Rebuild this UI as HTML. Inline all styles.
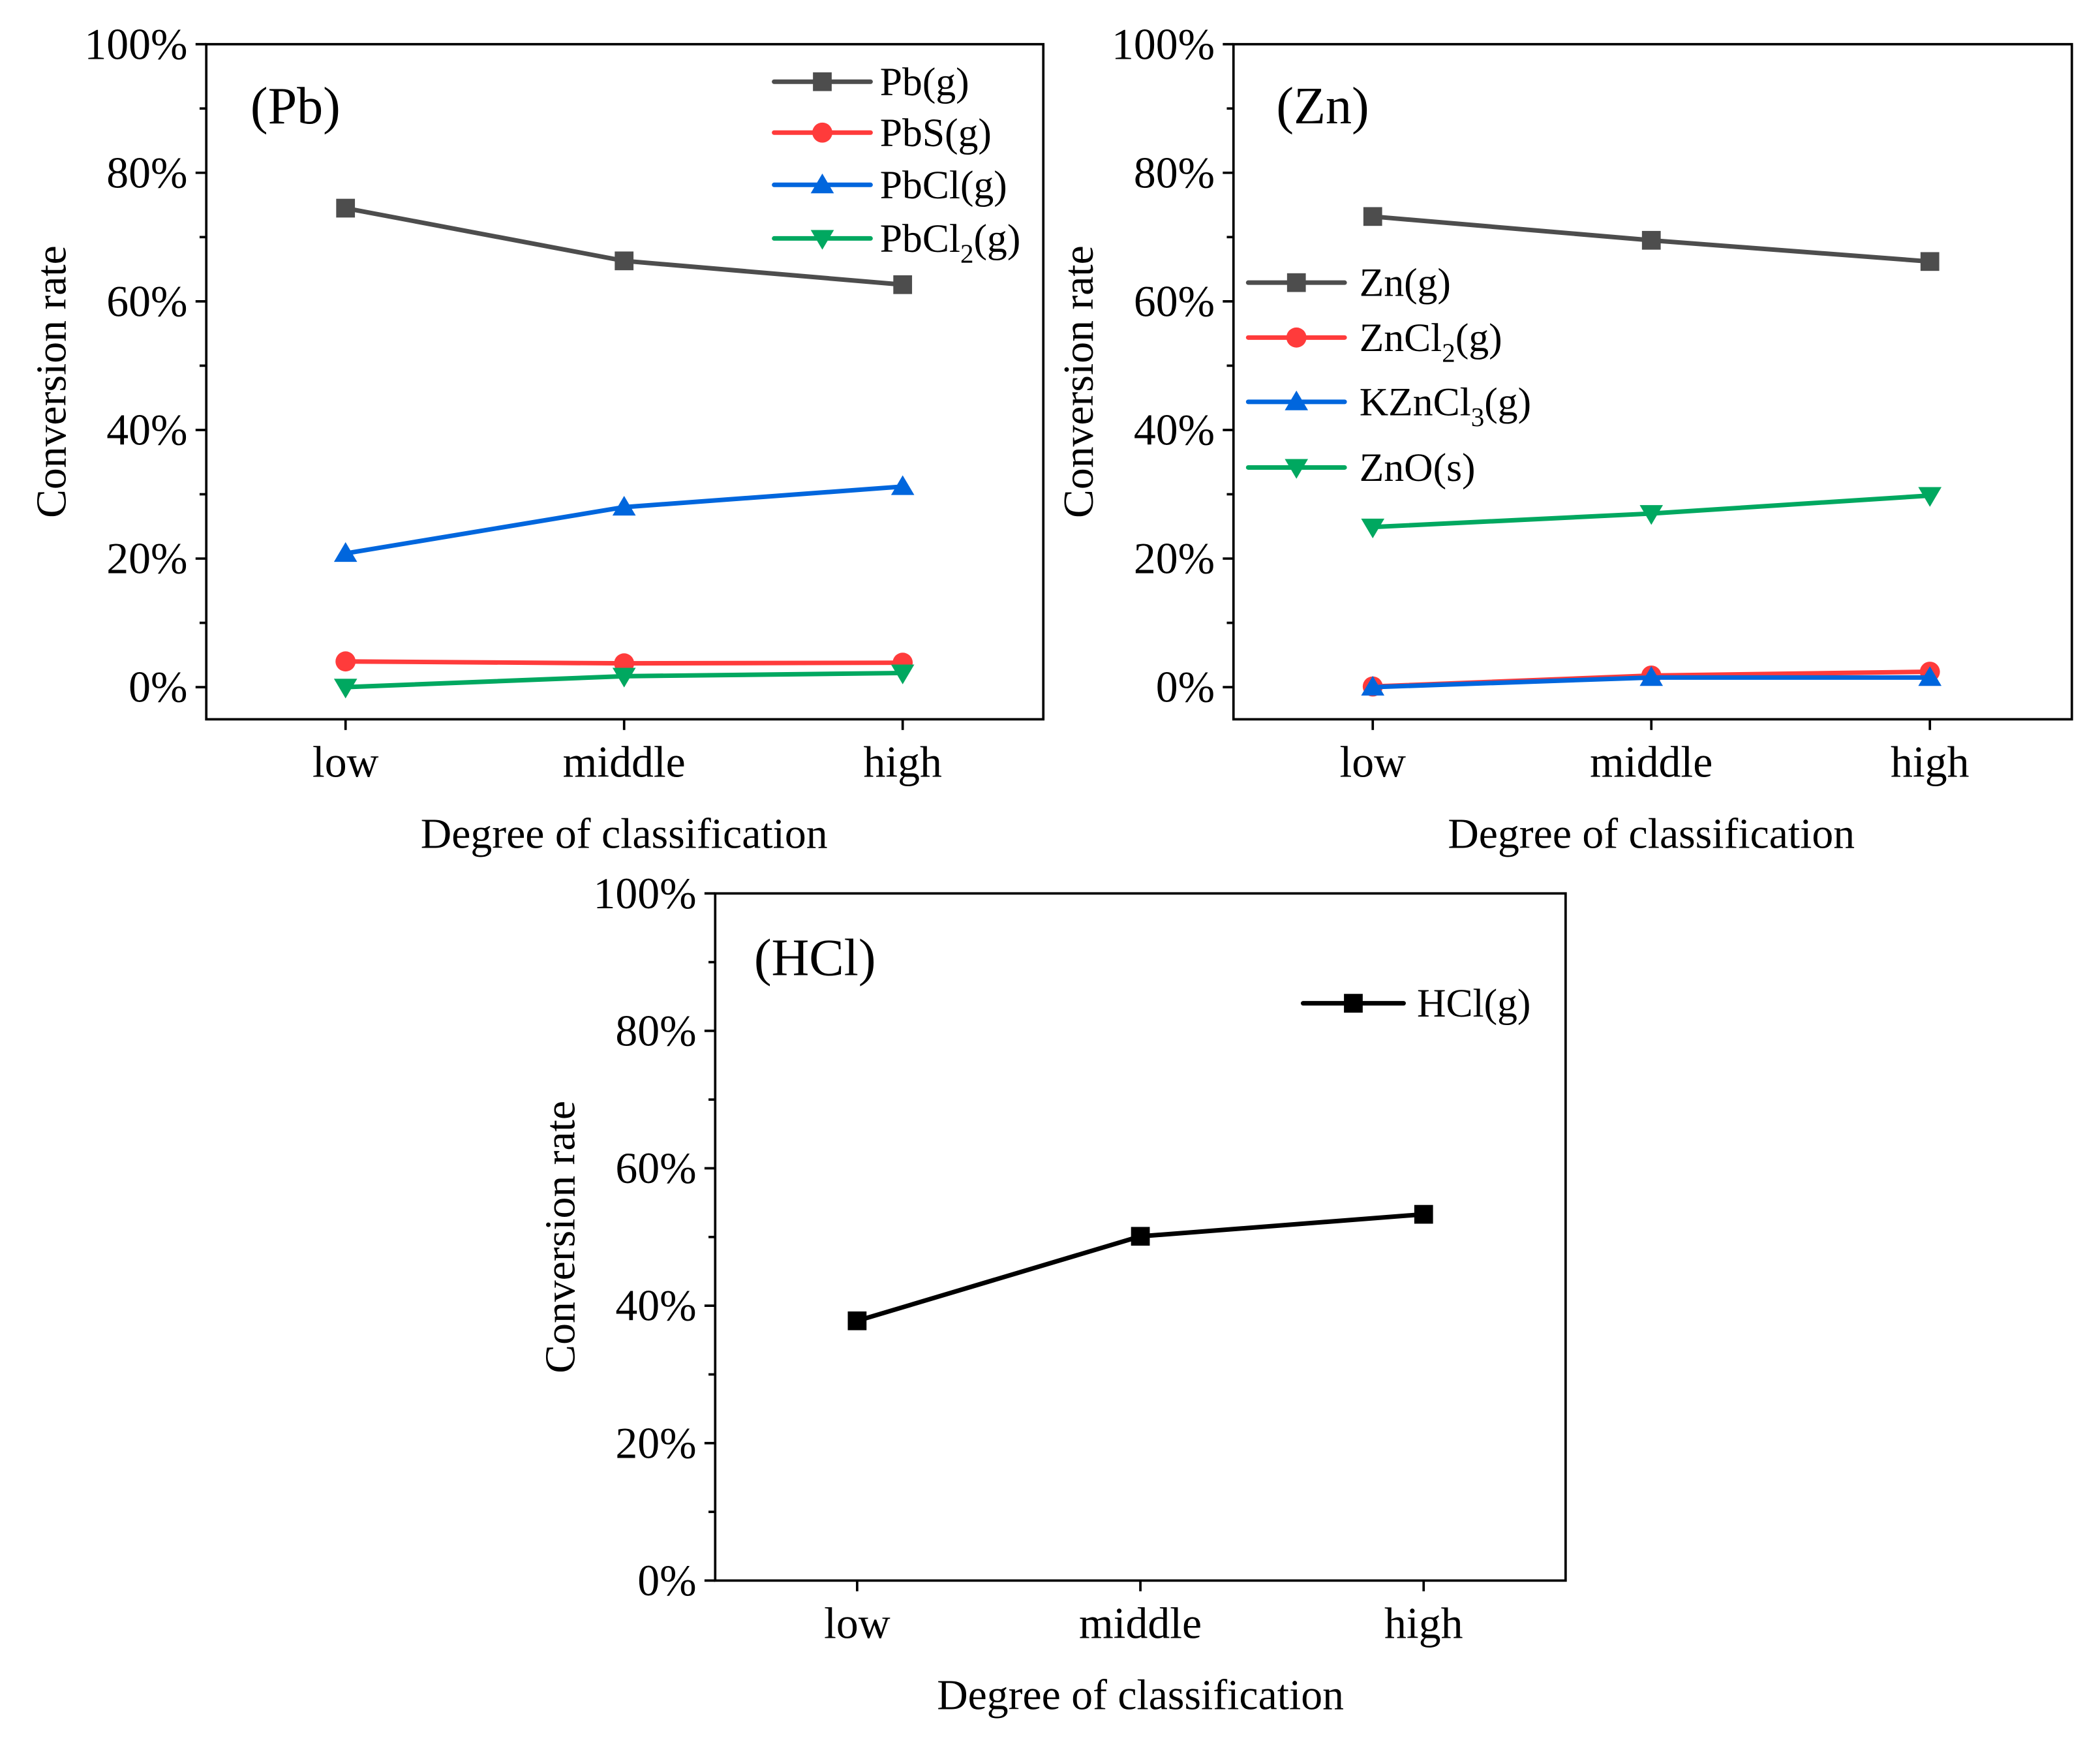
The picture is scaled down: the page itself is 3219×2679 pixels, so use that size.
<!DOCTYPE html>
<html><head><meta charset="utf-8"><style>
html,body{margin:0;padding:0;background:#fff}
svg{display:block}
text{font-family:"Liberation Serif",serif;fill:#000}
</style></head><body>
<svg id="fig" width="3219" height="2679" viewBox="0 0 1568 1305" xmlns="http://www.w3.org/2000/svg"></svg>
<script>
const categories=["low","middle","high"];
const yTickLabels=["0%","20%","40%","60%","80%","100%"];
const yTickValues=[0,20,40,60,80,100];
const pbG=[74.5,66.3,62.6];
const pbsG=[4.0,3.7,3.8];
const pbclG=[20.8,28.0,31.2];
const pbcl2G=[0.0,1.7,2.2];
const znG=[73.2,69.5,66.2];
const zncl2G=[0.1,1.8,2.4];
const kzncl3G=[0.0,1.5,1.5];
const znoS=[24.9,27.0,29.8];
const hclG=[37.8,50.1,53.3];

const NS="http://www.w3.org/2000/svg";
const svg=document.getElementById('fig');
function mk(tag,attrs,parent){const e=document.createElementNS(NS,tag);for(const k in attrs)e.setAttribute(k,attrs[k]);(parent||svg).appendChild(e);return e;}
const C={gray:"#4d4d4d",red:"#ff3b3b",blue:"#0066dd",green:"#00a860",black:"#000"};

function marker(g,type,x,y,col,s){
  let m;
  if(type==="sq") m=mk('rect',{x:x-s/2,y:y-s/2,width:s,height:s,fill:col},g);
  else if(type==="ci") m=mk('circle',{cx:x,cy:y,r:s/2+0.5,fill:col},g);
  else if(type==="up") m=mk('polygon',{points:`${x},${y-s*0.6} ${x-s*0.62},${y+s*0.45} ${x+s*0.62},${y+s*0.45}`,fill:col},g);
  else m=mk('polygon',{points:`${x},${y+s*0.6} ${x-s*0.62},${y-s*0.45} ${x+s*0.62},${y-s*0.45}`,fill:col},g);
  return m;
}

function panel(cfg){
  const g=mk('g',{});
  
  
  const xS=i=>cfg.xs[0]+(cfg.xs[2]-cfg.xs[0])*i/2;
  const yS=v=>cfg.y0+(cfg.y100-cfg.y0)*v/100;
  const fr=mk('rect',{x:cfg.L,y:cfg.T,width:cfg.R-cfg.L,height:cfg.B-cfg.T,fill:"none",stroke:"#000","stroke-width":1.8},g);
  
  
  for(let v=0;v<=100;v+=10){
    const major=v%20===0;
    const t=mk('line',{x1:cfg.L,x2:cfg.L-(major?8:5),y1:yS(v),y2:yS(v),stroke:"#000","stroke-width":1.8},g);
    
    
  }
  yTickValues.forEach((v,i)=>{
    const t=mk('text',{x:cfg.L-14,y:yS(v)+11,"font-size":33,"text-anchor":"end"},g);
    t.textContent=yTickLabels[i];
    
    
  });
  categories.forEach((c,i)=>{
    const t=mk('line',{x1:xS(i),x2:xS(i),y1:cfg.B,y2:cfg.B+8,stroke:"#000","stroke-width":1.8},g);
    
    
    const l=mk('text',{x:xS(i),y:cfg.B+43,"font-size":33,"text-anchor":"middle"},g);
    l.textContent=c;
    
    
  });
  const xt=mk('text',{x:(cfg.xs[0]+cfg.xs[2])/2,y:cfg.B+96,"font-size":32,"text-anchor":"middle"},g);
  xt.textContent="Degree of classification";
  
  
  const ytx=cfg.L-105, yty=(cfg.T+cfg.B)/2;
  const yt=mk('text',{x:ytx,y:yty,"font-size":32,"text-anchor":"middle",transform:`rotate(-90 ${ytx} ${yty})`},g);
  yt.textContent="Conversion rate";
  
  
  const pl=mk('text',{x:cfg.lab[0],y:cfg.lab[1],"font-size":39},g);
  pl.textContent=cfg.label;
  
  
  cfg.series.forEach(s=>{
    const sg=mk('g',{},g);
    
    
    const pts=s.data.map((v,i)=>`${xS(i)},${yS(v)}`).join(' ');
    const pl=mk('polyline',{points:pts,fill:"none",stroke:s.col,"stroke-width":3.4,"stroke-linejoin":"round"},sg);
    
    
    s.data.forEach((v,i)=>{
      const m=marker(sg,s.m,xS(i),yS(v),s.col,s.ms||14);
      
      
    });
  });
  cfg.series.forEach((s,i)=>{
    const lg=mk('g',{},g);
    
    
    const y=cfg.leg.ys[i];
    mk('line',{x1:cfg.leg.x1,x2:cfg.leg.x2,y1:y,y2:y,stroke:s.col,"stroke-width":3.4,"stroke-linecap":"round"},lg);
    marker(lg,s.m,(cfg.leg.x1+cfg.leg.x2)/2,y,s.col,s.ms||14);
    const t=mk('text',{x:cfg.leg.tx,y:y+10,"font-size":30},lg);
    t.innerHTML=s.label;
  });
}

panel({name:'panel-pb',label:'(Pb)',lab:[187,92],L:154,R:779,T:33,B:537,y0:513,y100:33,xs:[258,466,674],
  leg:{x1:578,x2:650,tx:657,ys:[61,99,138,178]},
  series:[
    {key:'pb-g',data:pbG,col:C.gray,m:'sq',label:'Pb(g)'},
    {key:'pbs-g',data:pbsG,col:C.red,m:'ci',label:'PbS(g)'},
    {key:'pbcl-g',data:pbclG,col:C.blue,m:'up',label:'PbCl(g)'},
    {key:'pbcl2-g',data:pbcl2G,col:C.green,m:'dn',label:'PbCl<tspan font-size="20" dy="8">2</tspan><tspan dy="-8">(g)</tspan>'}
  ]});
panel({name:'panel-zn',label:'(Zn)',lab:[953,92],L:921,R:1547,T:33,B:537,y0:513,y100:33,xs:[1025,1233,1441],
  leg:{x1:932,x2:1004,tx:1015,ys:[211,252,300,349]},
  series:[
    {key:'zn-g',data:znG,col:C.gray,m:'sq',label:'Zn(g)'},
    {key:'zncl2-g',data:zncl2G,col:C.red,m:'ci',label:'ZnCl<tspan font-size="20" dy="8">2</tspan><tspan dy="-8">(g)</tspan>'},
    {key:'kzncl3-g',data:kzncl3G,col:C.blue,m:'up',label:'KZnCl<tspan font-size="20" dy="8">3</tspan><tspan dy="-8">(g)</tspan>'},
    {key:'zno-s',data:znoS,col:C.green,m:'dn',label:'ZnO(s)'}
  ]});
panel({name:'panel-hcl',label:'(HCl)',lab:[563,728],L:534,R:1169,T:667,B:1180,y0:1180,y100:667,xs:[640,851,1063],
  leg:{x1:973,x2:1048,tx:1058,ys:[749]},
  series:[
    {key:'hcl-g',data:hclG,col:C.black,m:'sq',label:'HCl(g)'}
  ]});
</script>
</body></html>
